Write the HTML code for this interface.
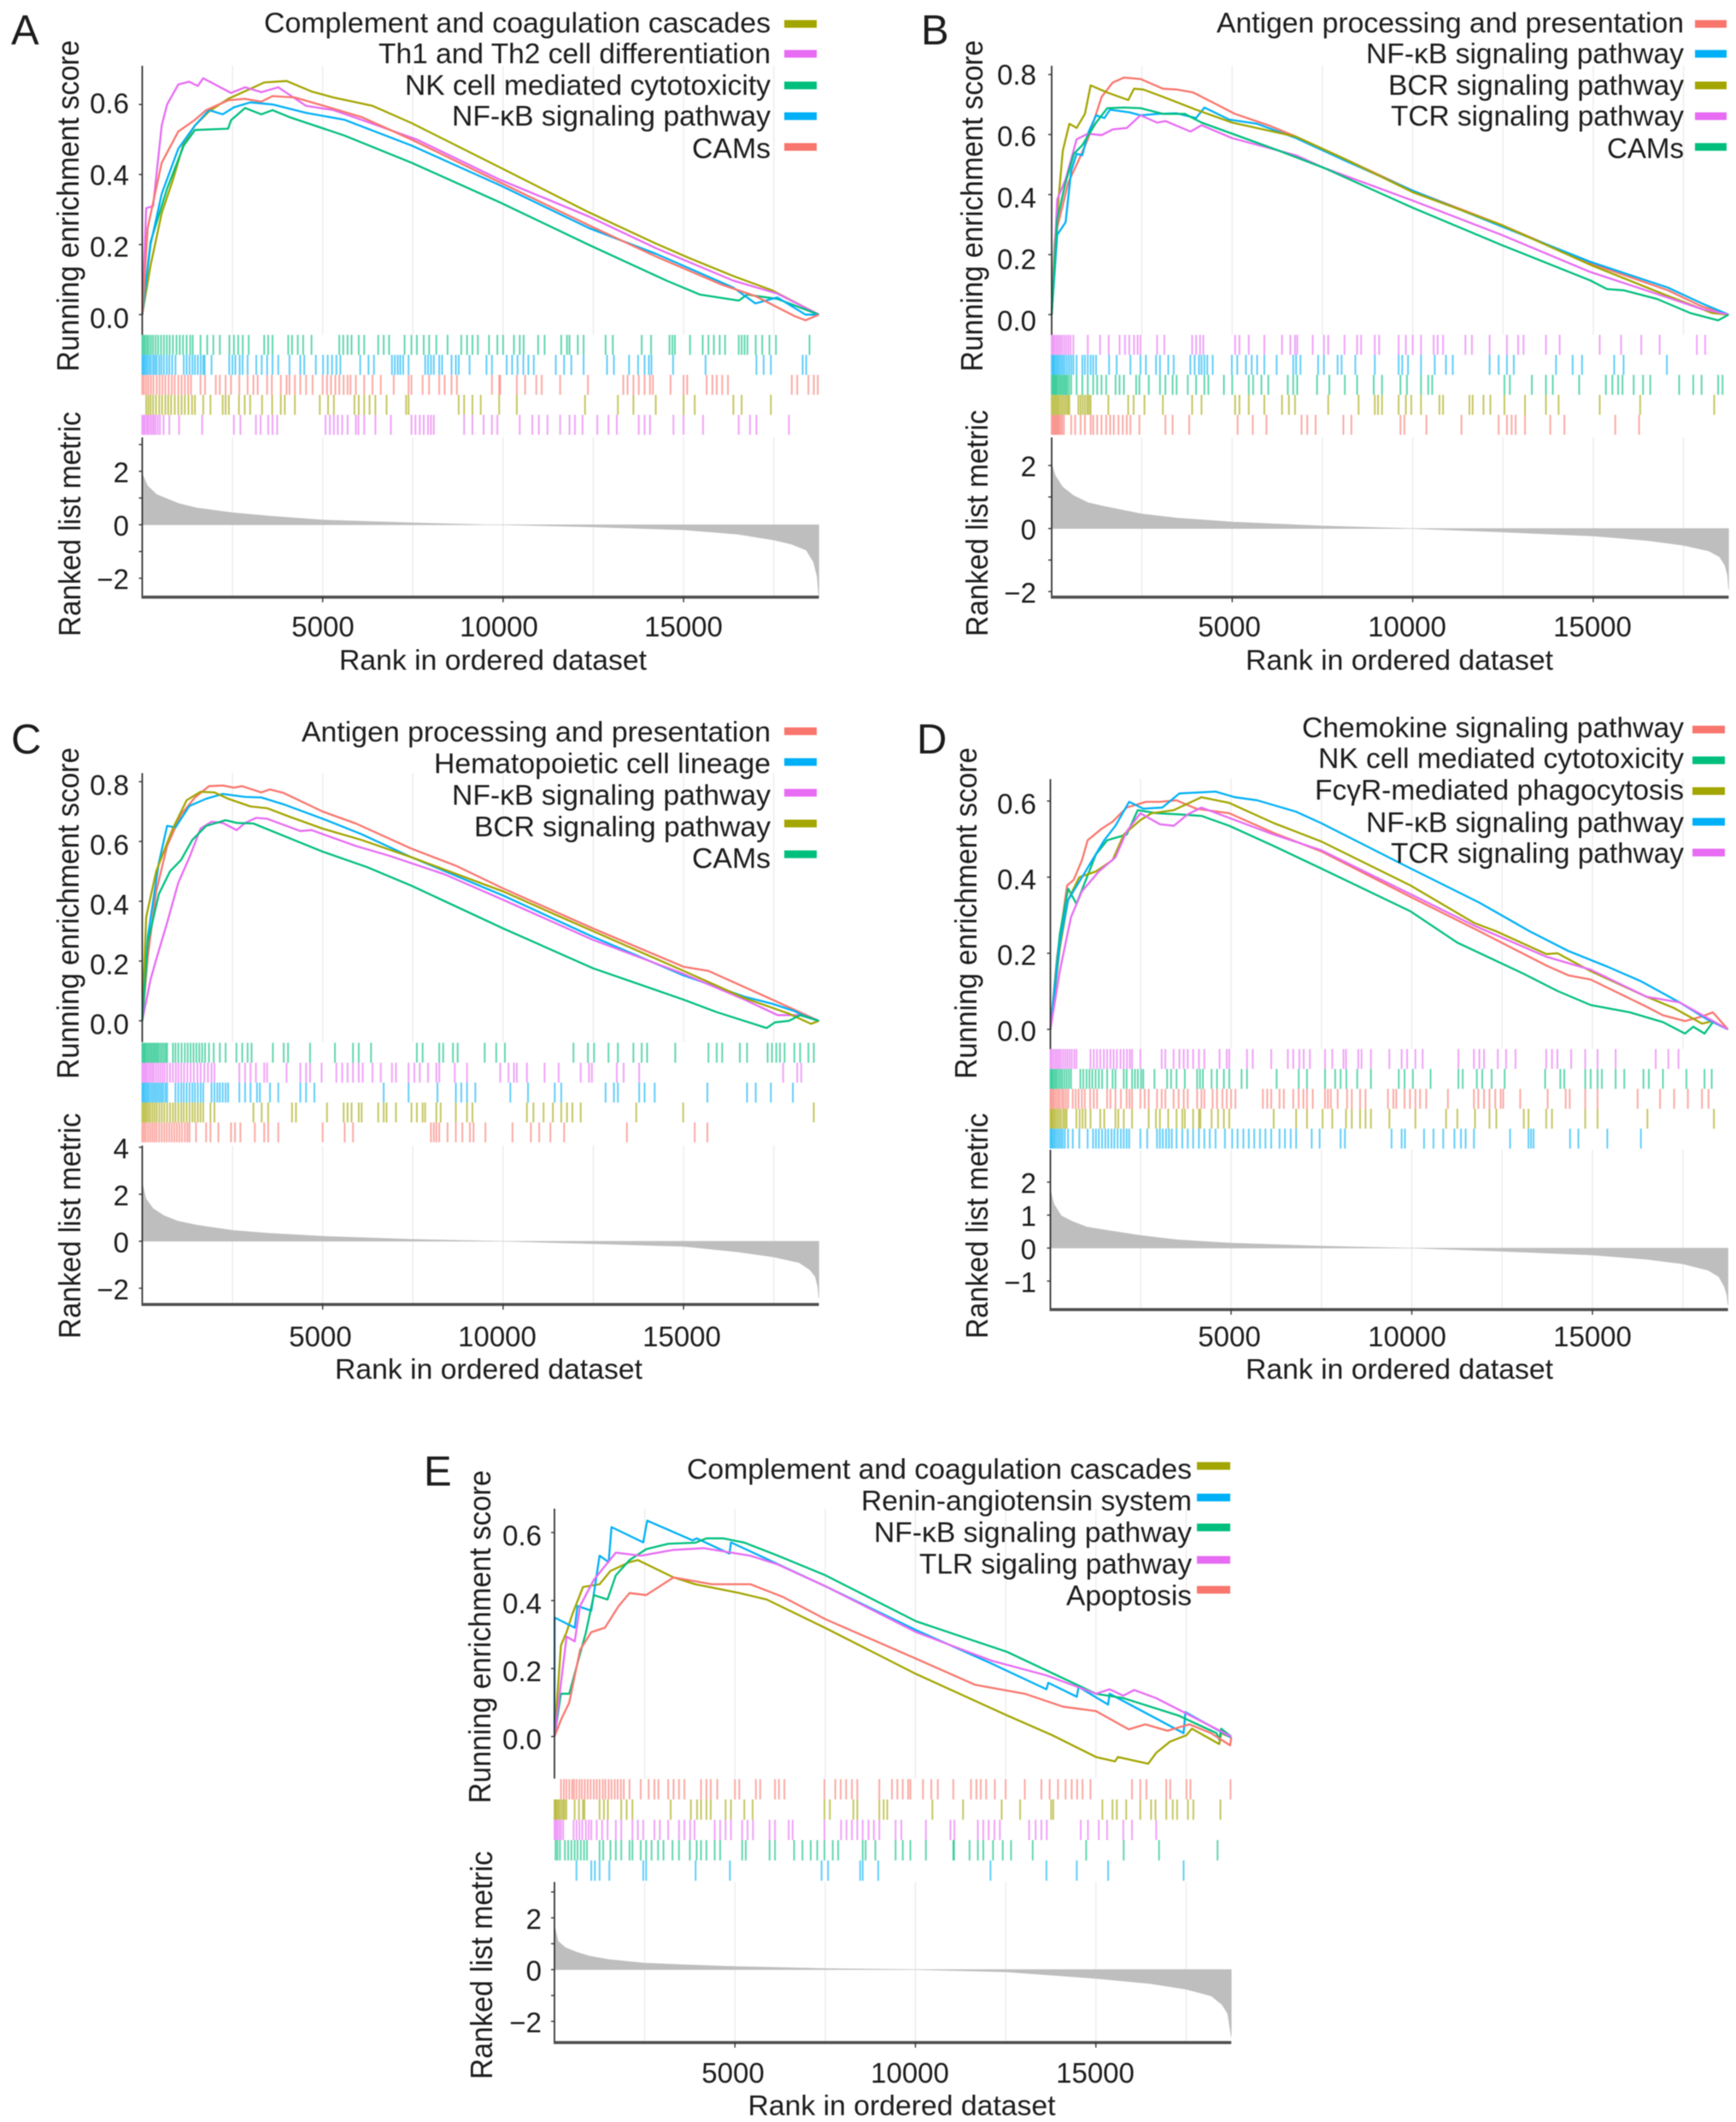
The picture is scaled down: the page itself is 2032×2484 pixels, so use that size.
<!DOCTYPE html>
<html lang="en">
<head>
<meta charset="utf-8">
<title>GSEA enrichment plots</title>
<style>
html,body{margin:0;padding:0;background:#fff;}
#figure{display:block;width:2032px;height:2484px;filter:blur(.55px);font-family:"Liberation Sans",Arial,sans-serif;}
text{fill:#1c1c1c;}
</style>
</head>
<body>
<svg id="figure" xmlns="http://www.w3.org/2000/svg" width="2032" height="2484" viewBox="0 0 2032 2484"></svg>
<script>
/* ---------- shared axis data ---------- */
const rankTickValues=[5000,10000,15000];
const rankGridValues=[2500,5000,7500,10000,12500,15000,17500];
const rankTickLabels=["5000","10000","15000"];
const metricRanksCommon=[0,100,300,600,1000,1500,2500,3500,5000,7500,9000,10000,12500,15000,16500,17500,18200,18500,18650,18720,18750];

/* ---------- panel A ---------- */
const aScoreTicks=[0,0.2,0.4,0.6];
const aMetricTicks=[-2,0,2];
const aMetricMinor=[-1,1,3];
const aMetricRanks=[0,150,400,1000,1500,2500,3500,5000,7500,9000,9500,10000,12500,15000,16500,17500,18000,18400,18600,18700,18750];
const aMetricValues=[1.9,1.45,1.13,0.8,0.63,0.45,0.33,0.18,0.07,0.02,0,0,-0.08,-0.19,-0.35,-0.57,-0.73,-0.95,-1.39,-1.93,-2.7];
const aComplementRanks=[0,230,540,850,1150,1460,1850,2380,3000,3380,4000,4690,5300,6380,7460,9920,12380,14230,15150,16380,17460,18750];
const aComplementScores=[0,0.14,0.29,0.385,0.49,0.54,0.58,0.616,0.645,0.663,0.667,0.637,0.62,0.596,0.547,0.42,0.292,0.203,0.162,0.11,0.069,0];
const aTh1Ranks=[0,108,300,540,690,1000,1300,1540,1690,2460,2850,3300,3770,4540,5300,6080,7610,9920,12380,14230,16380,17600,18750];
const aTh1Scores=[0,0.304,0.31,0.54,0.6,0.657,0.665,0.653,0.675,0.633,0.649,0.635,0.649,0.596,0.584,0.556,0.5,0.385,0.28,0.19,0.097,0.06,0];
const aNkRanks=[0,230,690,1150,1460,2380,2460,2850,3300,3610,4080,5610,7460,9920,12380,14530,15460,16530,16760,17600,18750];
const aNkScores=[0,0.207,0.36,0.483,0.527,0.531,0.555,0.59,0.572,0.584,0.564,0.511,0.434,0.32,0.199,0.097,0.057,0.04,0.057,0.045,0];
const aNfRanks=[0,230,540,1000,1460,1850,2230,2540,3000,3610,4540,5610,7460,9920,12380,14230,16380,16990,17600,18380,18750];
const aNfScores=[0,0.2,0.345,0.474,0.54,0.584,0.572,0.592,0.606,0.6,0.576,0.556,0.483,0.369,0.247,0.174,0.077,0.032,0.049,0,0];
const aCamsRanks=[0,150,540,1000,1460,1770,2380,2850,3300,3610,4230,5300,6080,7460,9920,12380,14230,16070,16990,18070,18380,18750];
const aCamsScores=[0,0.247,0.434,0.523,0.556,0.584,0.612,0.616,0.608,0.624,0.62,0.588,0.564,0.5,0.377,0.255,0.166,0.085,0.053,-0.004,-0.016,0];
const aNkHits=[0,40,80,130,180,240,300,370,440,520,600,680,760,850,950,1040,1130,1230,1330,1400,1615,1800,1970,2150,2415,2540,2660,2785,2950,3380,3490,3610,4045,4150,4310,4460,4690,5460,5570,5690,5800,6000,6150,6540,6690,6840,7270,7460,7610,7800,7950,8150,8460,8840,9000,9150,9300,9610,9840,10000,10300,10460,10570,10970,11150,11610,11770,11840,12070,12230,12840,13040,13840,14100,14610,14690,14760,15180,15530,15690,15840,16000,16150,16530,16610,16690,16770,17000,17180,17380,17560,18490];
const aNfHits=[0,30,60,100,140,190,240,300,350,400,470,530,600,680,750,830,920,1150,1230,1310,1390,1460,1540,1620,1690,1730,1920,2410,2500,2580,2700,2780,2920,3160,3310,3460,3610,3770,4080,4380,4490,4810,5010,5140,5260,5380,5490,6040,6270,6420,6920,7000,7080,7150,7230,7380,7840,7920,8000,8080,8230,8310,8570,8690,8770,9070,9540,9690,10100,10250,10400,10560,10700,10850,11460,11690,11890,12230,12880,13070,13490,13740,13920,14040,14110,14710,15610,17020,17220,17420,18300,18400];
const aCamsHits=[0,50,110,170,240,310,400,480,560,640,730,820,900,1000,1090,1180,1270,1350,1615,1740,2040,2150,2310,2460,2690,2920,3080,3200,3460,3590,3840,4000,4080,4230,4380,4540,4720,5000,5120,5230,5350,5460,5580,5690,5770,5920,6150,6380,6610,6970,7380,7460,7770,7950,8230,8380,8570,8720,9690,9890,9920,10380,10610,10920,11070,11580,12350,13330,13450,13610,13760,13920,14070,14150,14640,15000,15100,15640,15800,15920,16070,16230,18000,18150,18460,18610,18720];
const aComplementHits=[110,170,230,300,380,470,550,640,720,800,900,1000,1090,1180,1280,1380,1460,1690,1890,2230,2310,2400,2680,2840,2990,3320,3600,3840,3950,4230,4920,5150,5310,5880,6000,6150,6300,6460,6770,7310,7380,8770,8920,9150,9380,9890,10380,12270,13180,13610,14230,15000,15310,16380,16610,17420];
const aTh1Hits=[0,40,80,130,170,220,270,320,370,430,490,590,750,1020,1660,2540,2720,3150,3280,3490,3610,3740,5080,5200,5310,5420,5540,5690,5920,5990,6150,6460,6890,7460,7570,7690,7800,7920,8000,8080,8920,9150,9460,9690,9840,10460,10810,10990,11230,11580,11840,11990,12200,12610,12920,13150,13760,13920,14070,14720,15000,15540,16530,16840,17020,17920];

/* ---------- panel B ---------- */
const bScoreTicks=[0,0.2,0.4,0.6,0.8];
const bMetricTicks=[-2,0,2];
const bMetricMinor=[-1,1];
const bMetricValues=[2.05,1.68,1.32,1.05,0.82,0.69,0.46,0.33,0.21,0.08,0.03,0,-0.11,-0.235,-0.38,-0.53,-0.71,-0.9,-1.17,-1.48,-1.94];
const bAntigenRanks=[0,154,460,770,1000,1230,1385,1690,2000,2460,3080,3460,3920,4460,5075,6000,6770,8150,10000,12460,14920,17070,18000,18750];
const bAntigenScores=[0,0.29,0.44,0.52,0.584,0.669,0.726,0.773,0.79,0.785,0.753,0.75,0.74,0.707,0.669,0.631,0.593,0.517,0.413,0.299,0.171,0.081,0.028,0];
const bBcrRanks=[0,77,308,490,690,920,1080,1540,2120,2280,2540,3080,4000,5000,6770,8150,10000,12460,14920,17070,18300,18750];
const bBcrScores=[0,0.232,0.546,0.636,0.622,0.669,0.764,0.74,0.715,0.753,0.75,0.726,0.683,0.64,0.593,0.517,0.408,0.299,0.166,0.062,0.005,0];
const bNfRanks=[0,154,385,540,690,850,1000,1230,1460,1615,2150,2460,2920,3460,4000,4230,4920,5690,6770,8150,10000,12460,14920,17070,18000,18750];
const bNfScores=[0,0.266,0.308,0.479,0.536,0.531,0.603,0.664,0.655,0.683,0.674,0.664,0.669,0.671,0.655,0.69,0.65,0.636,0.588,0.512,0.413,0.294,0.176,0.09,0.038,0];
const bCamsRanks=[0,154,385,615,850,1230,1540,2000,2460,3080,3690,4150,5000,6300,7540,10000,12460,14920,15380,15840,16770,17690,18460,18750];
const bCamsScores=[0,0.318,0.441,0.536,0.565,0.64,0.688,0.69,0.688,0.669,0.669,0.64,0.603,0.546,0.489,0.356,0.232,0.114,0.085,0.081,0.052,0.005,-0.019,0];
const bTcrRanks=[0,154,385,690,1000,1385,1690,2080,2460,2920,3150,3845,4150,5000,6770,7540,10000,12460,14920,16460,18000,18750];
const bTcrScores=[0,0.384,0.451,0.584,0.603,0.598,0.617,0.622,0.664,0.64,0.645,0.61,0.631,0.588,0.531,0.489,0.38,0.266,0.142,0.081,0.019,0];
const bTcrHits=[0,40,80,130,180,230,280,340,400,460,520,600,1000,1340,1580,1880,2030,2150,2280,2380,2460,2920,3120,3890,4000,4110,4200,5080,5200,5460,5890,6380,6610,6740,6800,7230,7540,7660,8110,8460,8570,8950,9070,9610,9810,10000,10230,10580,10690,10840,11460,11640,12130,12610,12920,13070,13690,14070,15180,15770,16330,16840,17870,18100];
const bNfHits=[0,30,60,90,130,170,210,260,310,360,420,480,540,600,690,850,920,1000,1080,1150,1230,1590,1800,2180,2460,2610,2890,3000,3230,3380,3840,3960,4080,4150,4230,4310,4460,4990,5140,5380,5540,5690,5890,6230,6690,6770,6890,7380,7540,7920,8030,8410,8950,9610,9710,9870,10230,10610,10920,11110,12130,12380,12610,12800,13970,14430,14690,15580,15840,17040];
const bCamsHits=[0,30,60,90,120,150,190,230,270,310,350,390,430,480,540,690,850,1000,1150,1260,1380,1510,1770,1880,2000,2340,2430,2690,3000,3150,3350,3460,3770,4000,4230,4340,4770,5000,5460,5580,5810,6000,6540,6690,6800,7350,7690,8120,8460,8920,9150,9660,9840,10230,10430,10540,12540,12690,13300,13690,13880,14610,15350,15530,15690,15810,16120,16380,16580,17380,17770,18000,18460,18580];
const bBcrHits=[0,40,80,120,160,200,250,300,350,400,450,490,740,800,860,920,980,1030,1080,1570,2120,2270,2570,3080,3890,4150,5080,5200,5460,5890,6380,6570,6740,7660,8500,8950,9040,9150,9610,9810,9960,10230,10740,10840,11570,11660,11960,12150,12540,13110,13690,14040,15180,16300,18350];
const bAntigenHits=[0,30,60,90,120,150,180,210,250,290,340,540,650,800,920,1080,1150,1260,1380,1510,1620,1720,1850,1970,2080,2180,2430,3150,3350,3810,5150,5570,5950,6920,7080,7310,8080,8300,9660,9770,10380,11350,12380,12610,12740,12850,13110,13810,14200,15610,16270];

/* ---------- panel C ---------- */
const cScoreTicks=[0,0.2,0.4,0.6,0.8];
const cMetricTicks=[-2,0,2,4];
const cMetricMinor=[];
const cMetricValues=[2.5,1.82,1.39,1.09,0.85,0.69,0.46,0.34,0.21,0.08,0.03,0,-0.1,-0.22,-0.45,-0.67,-0.91,-1.21,-1.5,-1.94,-2.42];
const cAntigenRanks=[0,154,385,690,1075,1460,1850,2230,2540,2770,3300,3540,3920,5000,5920,7460,8690,10000,12490,15000,15690,17460,18750];
const cAntigenScores=[0,0.214,0.433,0.585,0.69,0.747,0.785,0.787,0.78,0.785,0.764,0.774,0.762,0.7,0.66,0.576,0.519,0.443,0.309,0.181,0.167,0.071,0];
const cBcrRanks=[0,108,385,690,845,1230,1615,2000,2380,3000,3460,4080,5000,6080,7460,10000,11770,12490,15000,16690,17920,18530,18750];
const cBcrScores=[0,0.347,0.5,0.595,0.643,0.738,0.766,0.764,0.743,0.717,0.711,0.683,0.643,0.605,0.547,0.433,0.338,0.3,0.167,0.076,0.024,-0.01,0];
const cHemaRanks=[0,154,460,690,920,1310,1770,2230,2850,3300,3920,5000,6080,7460,10000,12490,15000,16690,17460,18070,18300,18750];
const cHemaScores=[0,0.281,0.528,0.652,0.647,0.719,0.743,0.759,0.749,0.747,0.724,0.676,0.624,0.547,0.419,0.281,0.152,0.081,0.057,0.033,0.019,0];
const cNfRanks=[0,230,385,690,1000,1310,1615,1920,2230,2615,2850,3150,3460,4380,4690,5920,6850,8380,10000,12490,15000,16690,17610,18230,18750];
const cNfScores=[0,0.138,0.205,0.328,0.462,0.547,0.643,0.666,0.662,0.638,0.662,0.679,0.676,0.635,0.638,0.585,0.552,0.49,0.405,0.271,0.157,0.071,0.019,0.019,0];
const cCamsRanks=[0,154,460,770,1075,1385,1770,2310,2615,3080,3920,5000,6230,7460,10000,12490,15000,15920,17300,17530,17920,18230,18750];
const cCamsScores=[0,0.262,0.424,0.5,0.538,0.605,0.652,0.671,0.662,0.66,0.619,0.566,0.514,0.452,0.309,0.176,0.071,0.029,-0.024,-0.005,0,0.019,0];
const cCamsHits=[0,30,60,90,130,170,210,250,290,330,370,410,450,500,550,600,650,690,850,920,1000,1090,1180,1260,1340,1420,1500,1580,1660,1740,1850,1980,2150,2310,2610,2770,2920,3030,3620,3920,4040,4650,5340,5840,6000,6340,7610,7770,8230,8340,8610,8740,9490,9810,10050,11950,12350,12520,12920,13180,13610,13840,13990,14770,15690,15920,16070,16560,16760,17330,17450,17570,17670,17800,18070,18230,18460,18610];
const cNfHits=[0,40,80,120,170,220,270,320,380,440,500,560,620,690,770,850,930,1000,1080,1160,1250,1340,1430,1530,1620,1720,1820,1920,2000,2690,2850,3000,3150,3380,3460,4000,4380,4540,4650,4970,5380,5540,5690,5840,6000,6110,6380,6610,6920,7030,7380,7540,7690,7920,8150,8230,8660,9000,9920,10150,10300,10380,10660,11150,11540,12150,12380,12460,13150,13340,13770,17760,18150,18260];
const cHemaHits=[0,30,60,100,140,180,230,280,330,380,430,480,530,580,640,690,920,1000,1080,1150,1230,1310,1390,1460,1540,1620,1690,1920,2000,2080,2150,2230,2310,2380,2690,2850,3000,3180,3260,3540,3770,4380,4540,4770,6690,7380,8180,8690,8840,9000,9230,10200,10690,11430,11610,12840,13070,13180,13770,13920,14200,15660,16760,17000,17420,18030];
const cBcrHits=[0,40,80,120,170,220,280,340,400,470,540,610,690,770,850,920,1000,1080,1150,1230,1310,1390,1460,1540,1615,1690,1890,2000,3080,3310,3490,4150,4260,5120,5580,5690,5800,6000,6080,6540,6690,6770,7030,7460,7610,7770,7840,8150,8270,8690,9000,9150,10660,10840,11120,11380,11610,11770,11920,12150,13690,14990,18610];
const cAntigenHits=[0,50,100,160,220,280,340,400,470,540,610,680,750,820,890,960,1030,1100,1180,1250,1310,1490,1770,1890,2110,2460,2570,2720,3120,3380,3490,3770,5000,5610,5840,8000,8080,8150,8230,8460,8690,8870,9080,9180,9510,10260,10770,11000,11310,11690,13430,15310,15660];

/* ---------- panel D ---------- */
const dScoreTicks=[0,0.2,0.4,0.6];
const dMetricTicks=[-1,0,1,2];
const dMetricMinor=[];
const dMetricValues=[1.76,1.33,0.98,0.81,0.64,0.55,0.38,0.25,0.15,0.06,0.02,0,-0.095,-0.21,-0.34,-0.48,-0.67,-0.87,-1.17,-1.43,-1.73];
const dChemokineRanks=[0,185,460,645,875,1030,1415,1720,2110,2645,3030,3490,4030,4950,6180,7490,9970,11870,13720,14330,14950,16490,16950,17560,18030,18330,18750];
const dChemokineScores=[0,0.19,0.378,0.393,0.445,0.497,0.527,0.546,0.583,0.598,0.598,0.602,0.58,0.568,0.516,0.468,0.348,0.258,0.168,0.142,0.131,0.06,0.037,0.022,0.034,0.045,0];
const dFcRanks=[0,260,490,800,1260,1720,2030,2490,2800,3410,4180,4950,6180,7490,9970,11720,12330,13720,14030,14950,16490,17260,18030,18330,18750];
const dFcScores=[0,0.213,0.34,0.4,0.415,0.445,0.512,0.55,0.568,0.576,0.61,0.595,0.542,0.494,0.378,0.28,0.258,0.198,0.2,0.153,0.086,0.056,0.015,0.022,0];
const dNfRanks=[0,260,490,875,1490,1800,2180,2570,3100,3570,4570,5100,5720,6800,7490,9970,11870,13260,14330,15410,16330,17410,18180,18750];
const dNfScores=[0,0.228,0.34,0.4,0.497,0.535,0.598,0.58,0.583,0.62,0.625,0.61,0.602,0.572,0.542,0.423,0.333,0.258,0.206,0.165,0.127,0.071,0.026,0];
const dNkRanks=[0,260,490,720,1260,1570,2110,2415,2950,3570,4180,4950,6180,7490,9970,11260,13100,14030,14950,16030,16950,17560,17790,18100,18330,18750];
const dNkScores=[0,0.25,0.37,0.33,0.46,0.497,0.512,0.576,0.568,0.565,0.561,0.535,0.482,0.423,0.31,0.228,0.146,0.101,0.064,0.045,0.019,-0.011,0.007,-0.011,0.019,0];
const dTcrRanks=[0,260,570,875,1340,1800,2110,2490,3030,3415,3800,4180,4800,6180,7490,9970,11720,13720,14950,16490,17410,18750];
const dTcrScores=[0,0.153,0.295,0.363,0.415,0.452,0.52,0.568,0.539,0.535,0.565,0.583,0.561,0.512,0.471,0.355,0.273,0.191,0.157,0.086,0.071,0];
const dTcrHits=[0,40,90,140,190,240,290,350,410,470,530,590,660,720,1110,1200,1290,1380,1480,1570,1660,1750,1840,1940,2030,2120,2200,2260,2490,3080,3180,3410,3570,3690,3800,3950,4110,4260,4680,4880,4950,5440,5600,6110,6570,6720,6890,7010,7180,7600,7800,8110,8180,8520,8610,8870,9380,9720,9870,10100,10300,11290,11720,11870,12000,12380,12610,12870,13720,13880,14030,14410,14800,15140,15640,16750,17100,17380];
const dNkHits=[0,30,60,100,140,180,230,280,330,390,450,510,570,830,910,1000,1080,1160,1250,1340,1430,1570,1720,1800,2030,2110,2260,2340,2420,2510,2570,2880,3230,3340,3490,3720,4060,4140,4220,4460,4610,4800,4950,5290,5440,6260,6870,7100,7600,7880,8030,8190,8490,8870,9640,9800,10030,10520,11290,11410,11800,11950,12210,12570,13690,14110,14220,14800,14950,15140,15260,15640,15880,16410,16560,16950,17600,18100,18300];
const dChemokineHits=[0,30,70,110,160,210,260,320,370,430,490,620,700,780,870,950,1100,1200,1290,1570,1660,1800,1950,2110,2190,2260,2490,2610,2720,2950,3080,3180,3410,3550,3690,3800,4060,4180,4260,4490,4610,4760,4880,5000,5120,5880,6000,6110,6340,6460,6720,6870,7000,7100,7260,7600,7680,7760,7950,8210,8340,8570,8720,9340,9490,9570,9800,9950,10100,10230,10400,11000,11720,11840,12000,12150,12310,12460,12530,13000,13760,14260,14370,14800,15140,16250,16870,17260,17640,18030,18210];
const dFcHits=[0,30,60,100,140,190,240,290,350,400,450,720,810,890,970,1110,1380,1490,1800,1880,2030,2260,2720,2920,3030,3260,3490,3650,3720,3950,4110,4150,4460,4640,4800,4950,6180,6800,7100,7530,7800,8180,8340,8570,8720,8870,9380,10100,10950,11260,11750,12150,12340,13100,13230,13720,13880,14800,15140,16520,18360];
const dNfHits=[0,30,60,100,140,190,240,290,340,400,490,620,800,1030,1180,1260,1340,1430,1520,1600,1690,1770,1860,1950,2030,2110,2180,2490,2680,2950,3030,3110,3200,3280,3360,3490,3650,3800,3950,4110,4260,4410,4570,4830,5030,5180,5340,5490,5640,5800,5950,6110,6340,6490,6650,6800,7230,7450,8030,8150,9440,9720,9810,10340,10600,10870,11180,11360,11490,11720,12720,13230,13300,13370,14380,14610,15410,16340];

/* ---------- panel E ---------- */
const eScoreTicks=[0,0.2,0.4,0.6];
const eMetricTicks=[-2,0,2];
const eMetricMinor=[-1,1,3];
const eMetricRanks=[0,100,300,600,1000,1500,2500,3500,5000,7500,10000,12500,15000,16500,17500,18200,18500,18650,18750];
const eMetricValues=[1.7,1.1,0.85,0.68,0.51,0.39,0.25,0.19,0.12,0.04,0,-0.085,-0.34,-0.54,-0.76,-1.02,-1.36,-1.7,-2.6];
const eComplementRanks=[0,180,335,490,790,1250,1550,2080,2310,3300,3900,5120,5880,7510,10020,12540,13790,15000,15530,15610,16450,16670,17050,17510,17660,18420,18470,18750];
const eComplementScores=[0,0.268,0.307,0.358,0.44,0.448,0.487,0.513,0.519,0.468,0.448,0.422,0.403,0.319,0.184,0.062,0.004,-0.06,-0.073,-0.06,-0.08,-0.048,-0.015,0.004,0.023,-0.022,0.01,-0.003];
const eReninRanks=[0,5,560,640,1020,1250,1500,1580,2460,2570,3830,3940,4850,4890,7510,10020,12080,13630,13680,14470,14520,15340,15380,17430,17480,18750];
const eReninScores=[0,0.35,0.32,0.384,0.37,0.532,0.513,0.616,0.571,0.635,0.577,0.583,0.538,0.571,0.442,0.313,0.216,0.139,0.158,0.117,0.146,0.094,0.126,0.01,0.072,-0.003];
const eNfRanks=[0,180,410,640,870,1090,1470,1700,2080,2540,3150,3900,4210,4670,5270,6190,7510,10020,12540,15000,15760,17280,18340,18420,18470,18750];
const eNfScores=[0,0.126,0.126,0.216,0.306,0.416,0.403,0.474,0.519,0.551,0.567,0.57,0.583,0.583,0.57,0.532,0.474,0.339,0.249,0.126,0.113,0.062,0.01,-0.009,0.023,0];
const eTlrRanks=[0,335,560,710,1090,1700,2390,3300,4130,5430,6190,7510,10020,12110,13630,15000,15380,15760,16060,16670,18750];
const eTlrScores=[0,0.294,0.28,0.384,0.461,0.541,0.532,0.549,0.554,0.532,0.506,0.442,0.307,0.223,0.18,0.126,0.139,0.12,0.137,0.113,0];
const eApoptosisRanks=[0,180,410,710,1020,1400,1780,2080,2540,3300,4360,5430,6340,7510,10020,11660,13030,14090,15000,15910,16370,16980,17590,18190,18720,18750];
const eApoptosisScores=[0,0.049,0.1,0.255,0.307,0.32,0.384,0.422,0.416,0.468,0.448,0.448,0.41,0.345,0.229,0.152,0.126,0.088,0.075,0.021,0.036,0.017,0.036,0.01,-0.026,-0.003];
const eApoptosisHits=[180,260,330,410,490,540,610,690,760,840,920,1000,1090,1170,1250,1340,1410,1500,1580,1670,1750,1840,1920,2080,2390,2610,2770,2880,3150,3300,3450,3600,4060,4210,4330,4510,5000,5120,5580,5700,6110,6220,6370,7480,7780,7930,8080,8240,8390,9000,9350,9500,9650,9800,9860,10210,10440,10620,11050,11540,11690,11810,11960,12200,12500,13030,13490,13720,13950,14160,14330,14480,14630,14850,16000,16230,16400,16950,17060,17510,17620,18730];
const eComplementHits=[0,30,60,100,140,190,240,280,330,560,680,790,830,1250,1370,1480,1850,2000,2160,3220,3780,3950,4060,4210,4330,4740,4890,5260,5490,7480,7630,8280,8390,9000,9120,9220,10470,11320,12390,12900,13760,13820,15180,15460,15580,15840,16230,16530,16650,16950,17130,17250,17550,17700,18450];
const eTlrHits=[0,40,80,130,180,240,530,610,690,770,870,950,1020,1170,1320,1470,1700,1850,2160,2310,2460,2770,2920,3150,3450,3600,3760,3880,4440,4590,4740,4890,5200,5350,5500,5960,6110,6490,6600,7480,7940,8090,8240,8390,8540,8700,8850,9000,9450,9610,10290,10970,11080,11730,11880,12030,12190,12340,13150,13330,13490,13640,14580,14780,15080,15310,15760,16000,16670];
const eNfHits=[30,80,150,290,380,470,560,640,730,820,900,1250,1350,1550,1700,1850,2080,2160,2390,2540,2690,2870,3020,3270,3450,3750,3940,4060,4210,4440,4590,5200,5300,5960,6110,6640,6870,7100,7280,7480,7710,7860,8540,8620,8890,9450,9650,9860,10290,11050,11070,11500,11730,11880,12150,12420,12650,13250,14730,15770,16750,18370];
const eReninHits=[610,1020,1120,1250,1520,2460,2540,3910,4860,7400,7580,8470,8540,8970,12080,13630,14470,15340,17430];

/* ---------- palette (ggplot hue) ---------- */
const SALMON="#F8766D",OLIVE="#A3A500",GREEN="#00BF7D",BLUE="#00B0F6",MAGENTA="#E76BF3";

/* ---------- panel layout ---------- */
const panels=[
 {id:"a",letter:"A",letterX:13,letterY:52,x0:166.5,k:0.04224,
  top:{axisTop:77,axisBottom:392,zero:368.3,unit:410,ticks:aScoreTicks,labelRight:151,labelShift:4,labelDrift:-9},
  rug:{top:392,rowH:23.4},
  low:{top:512,zero:614.3,unit:31.3,bottom:699,ticks:aMetricTicks,minor:aMetricMinor,ranks:aMetricRanks,values:aMetricValues,labelRight:151},
  xLabelY:745,xLabelX:[378,584,800],xTitle:{x:397,w:360,y:784},
  yTitle:{x:92,y:435,len:388},yTitle2:{x:94,y:745,len:263},
  legendRight:902,keyX:918,keyW:38,
  series:[
   {key:"complement",label:"Complement and coagulation cascades",color:OLIVE,ranks:aComplementRanks,scores:aComplementScores,hits:aComplementHits,row:3,left:309,base:38,keyY:28},
   {key:"th1-th2",label:"Th1 and Th2 cell differentiation",color:MAGENTA,ranks:aTh1Ranks,scores:aTh1Scores,hits:aTh1Hits,row:4,left:443,base:74,keyY:63},
   {key:"nk-cell",label:"NK cell mediated cytotoxicity",color:GREEN,ranks:aNkRanks,scores:aNkScores,hits:aNkHits,row:0,left:474,base:111,keyY:100},
   {key:"nf-kb",label:"NF-\u03BAB signaling pathway",color:BLUE,ranks:aNfRanks,scores:aNfScores,hits:aNfHits,row:1,left:529,base:147,keyY:136},
   {key:"cams",label:"CAMs",color:SALMON,ranks:aCamsRanks,scores:aCamsScores,hits:aCamsHits,row:2,left:810,base:185,keyY:172}]},
 {id:"b",letter:"B",letterX:1078,letterY:52,x0:1231,k:0.04226,
  top:{axisTop:77,axisBottom:392,zero:368.3,unit:351.3,ticks:bScoreTicks,labelRight:1213,labelShift:7,labelDrift:-9},
  rug:{top:392,rowH:23.4},
  low:{top:512,zero:618.7,unit:36.9,bottom:699,ticks:bMetricTicks,minor:bMetricMinor,ranks:metricRanksCommon,values:bMetricValues,labelRight:1213},
  xLabelY:745,xLabelX:[1439,1647,1864],xTitle:{x:1458,w:360,y:784},
  yTitle:{x:1150,y:435,len:388},yTitle2:{x:1156,y:745,len:265},
  legendRight:1971,keyX:1984,keyW:37,
  series:[
   {key:"antigen",label:"Antigen processing and presentation",color:SALMON,ranks:bAntigenRanks,scores:bAntigenScores,hits:bAntigenHits,row:4,left:1424,base:38,keyY:28},
   {key:"nf-kb",label:"NF-\u03BAB signaling pathway",color:BLUE,ranks:bNfRanks,scores:bNfScores,hits:bNfHits,row:1,left:1599,base:74,keyY:63},
   {key:"bcr",label:"BCR signaling pathway",color:OLIVE,ranks:bBcrRanks,scores:bBcrScores,hits:bBcrHits,row:3,left:1625,base:111,keyY:100},
   {key:"tcr",label:"TCR signaling pathway",color:MAGENTA,ranks:bTcrRanks,scores:bTcrScores,hits:bTcrHits,row:0,left:1628,base:147,keyY:136},
   {key:"cams",label:"CAMs",color:GREEN,ranks:bCamsRanks,scores:bCamsScores,hits:bCamsHits,row:2,left:1881,base:185,keyY:172}]},
 {id:"c",letter:"C",letterX:13,letterY:882,x0:166.5,k:0.04224,
  top:{axisTop:905,axisBottom:1220,zero:1195,unit:350,ticks:cScoreTicks,labelRight:151,labelShift:3.5,labelDrift:0},
  rug:{top:1220.7,rowH:23.3},
  low:{top:1341,zero:1453,unit:27.5,bottom:1527,ticks:cMetricTicks,minor:cMetricMinor,ranks:metricRanksCommon,values:cMetricValues,labelRight:151},
  xLabelY:1576,xLabelX:[375,582,798],xTitle:{x:392,w:360,y:1614},
  yTitle:{x:92,y:1263,len:388},yTitle2:{x:94,y:1567,len:264},
  legendRight:902,keyX:918,keyW:38,
  series:[
   {key:"antigen",label:"Antigen processing and presentation",color:SALMON,ranks:cAntigenRanks,scores:cAntigenScores,hits:cAntigenHits,row:4,left:353,base:868,keyY:856},
   {key:"hematopoietic",label:"Hematopoietic cell lineage",color:BLUE,ranks:cHemaRanks,scores:cHemaScores,hits:cHemaHits,row:2,left:508,base:905,keyY:892},
   {key:"nf-kb",label:"NF-\u03BAB signaling pathway",color:MAGENTA,ranks:cNfRanks,scores:cNfScores,hits:cNfHits,row:1,left:529,base:942,keyY:928},
   {key:"bcr",label:"BCR signaling pathway",color:OLIVE,ranks:cBcrRanks,scores:cBcrScores,hits:cBcrHits,row:3,left:555,base:979,keyY:964},
   {key:"cams",label:"CAMs",color:GREEN,ranks:cCamsRanks,scores:cCamsScores,hits:cCamsHits,row:0,left:810,base:1016,keyY:1000}]},
 {id:"d",letter:"D",letterX:1073,letterY:882,x0:1229.5,k:0.0423,
  top:{axisTop:912,axisBottom:1228,zero:1205,unit:445.5,ticks:dScoreTicks,labelRight:1213,labelShift:1.5,labelDrift:2.5},
  rug:{top:1228,rowH:23.3},
  low:{top:1346,zero:1461,unit:38.6,bottom:1533,ticks:dMetricTicks,minor:dMetricMinor,ranks:metricRanksCommon,values:dMetricValues,labelRight:1213},
  xLabelY:1576,xLabelX:[1439,1647,1864],xTitle:{x:1458,w:360,y:1614},
  yTitle:{x:1143,y:1263,len:388},yTitle2:{x:1156,y:1567,len:264},
  legendRight:1971,keyX:1981,keyW:38,
  series:[
   {key:"chemokine",label:"Chemokine signaling pathway",color:SALMON,ranks:dChemokineRanks,scores:dChemokineScores,hits:dChemokineHits,row:2,left:1524,base:863,keyY:854},
   {key:"nk-cell",label:"NK cell mediated cytotoxicity",color:GREEN,ranks:dNkRanks,scores:dNkScores,hits:dNkHits,row:1,left:1543,base:899,keyY:890},
   {key:"fc-gamma",label:"Fc\u03B3R-mediated phagocytosis",color:OLIVE,ranks:dFcRanks,scores:dFcScores,hits:dFcHits,row:3,left:1539,base:936,keyY:926},
   {key:"nf-kb",label:"NF-\u03BAB signaling pathway",color:BLUE,ranks:dNfRanks,scores:dNfScores,hits:dNfHits,row:4,left:1599,base:974,keyY:962},
   {key:"tcr",label:"TCR signaling pathway",color:MAGENTA,ranks:dTcrRanks,scores:dTcrScores,hits:dTcrHits,row:0,left:1628,base:1010,keyY:998}]},
 {id:"e",letter:"E",letterX:496,letterY:1739,x0:649,k:0.04225,
  top:{axisTop:1766,axisBottom:2082,zero:2032.8,unit:398,ticks:eScoreTicks,labelRight:634,labelShift:3,labelDrift:0},
  rug:{top:2082.6,rowH:23.8},
  low:{top:2203,zero:2305.6,unit:30.3,bottom:2391,ticks:eMetricTicks,minor:eMetricMinor,ranks:eMetricRanks,values:eMetricValues,labelRight:634},
  xLabelY:2438,xLabelX:[858,1065,1282],xTitle:{x:875.5,w:360,y:2476},
  yTitle:{x:574,y:2111,len:390},yTitle2:{x:576,y:2434,len:267},
  legendRight:1395,keyX:1401,keyW:39,
  series:[
   {key:"complement",label:"Complement and coagulation cascades",color:OLIVE,ranks:eComplementRanks,scores:eComplementScores,hits:eComplementHits,row:1,left:804,base:1731,keyY:1716},
   {key:"renin",label:"Renin-angiotensin system",color:BLUE,ranks:eReninRanks,scores:eReninScores,hits:eReninHits,row:4,left:1008,base:1768,keyY:1753},
   {key:"nf-kb",label:"NF-\u03BAB signaling pathway",color:GREEN,ranks:eNfRanks,scores:eNfScores,hits:eNfHits,row:3,left:1023,base:1805,keyY:1788},
   {key:"tlr",label:"TLR sigaling pathway",color:MAGENTA,ranks:eTlrRanks,scores:eTlrScores,hits:eTlrHits,row:2,left:1076,base:1842,keyY:1826},
   {key:"apoptosis",label:"Apoptosis",color:SALMON,ranks:eApoptosisRanks,scores:eApoptosisScores,hits:eApoptosisHits,row:0,left:1248,base:1879,keyY:1861}]}
];

/* ---------- drawing ---------- */
const NS="http://www.w3.org/2000/svg";
const root=document.getElementById("figure");
const MAX_RANK=18750;
const FONT=33;
const TEXT_HALF=11.8;

function svgNode(tag,parent,attrs){
  const n=document.createElementNS(NS,tag);
  for(const a in attrs){n.setAttribute(a,attrs[a]);}
  parent.appendChild(n);
  return n;
}
function xAxis(p){return r=>p.x0+r*p.k;}
function scoreAxis(p){return s=>p.top.zero-s*p.top.unit;}
function metricAxis(p){return v=>p.low.zero-v*p.low.unit;}
function tickText(v,digits){return (digits?v.toFixed(digits):String(v)).replace("-","\u2212");}

panels.forEach(p=>{
  const x=xAxis(p),yS=scoreAxis(p),yM=metricAxis(p);
  const xEnd=x(MAX_RANK);
  const g=svgNode("g",root,{});
  
  

  const letter=svgNode("text",g,{x:p.letterX,y:p.letterY,"font-size":49});
  
  
  letter.textContent=p.letter;

  rankGridValues.forEach(r=>{
    const gridTop=svgNode("line",g,{x1:x(r),x2:x(r),y1:p.top.axisTop,y2:p.top.axisBottom,stroke:"#ececec","stroke-width":1.4});
    
    
    const gridLow=svgNode("line",g,{x1:x(r),x2:x(r),y1:p.low.top,y2:p.low.bottom,stroke:"#ececec","stroke-width":1.4});
    
    
  });

  /* rug rows */
  p.series.forEach(s=>{
    const rugGroup=svgNode("g",g,{stroke:s.color,"stroke-width":2,"stroke-opacity":0.62});
    
    
    const y1=p.rug.top+s.row*p.rug.rowH,y2=y1+p.rug.rowH;
    s.hits.forEach(r=>{
      const tick=svgNode("line",rugGroup,{x1:x(r),x2:x(r),y1:y1,y2:y2});
      
      
    });
  });

  /* metric area */
  let d="M"+x(p.low.ranks[0])+" "+yM(0);
  p.low.ranks.forEach((r,i)=>{d+=" L"+x(r).toFixed(1)+" "+yM(p.low.values[i]).toFixed(1);});
  d+=" L"+x(p.low.ranks[p.low.ranks.length-1]).toFixed(1)+" "+yM(0)+" Z";
  const area=svgNode("path",g,{d:d,fill:"#bebebe",stroke:"#bebebe","stroke-width":0.6});
  
  

  /* running score curves */
  p.series.forEach(s=>{
    let c="";
    s.ranks.forEach((r,i)=>{c+=(i?" L":"M")+x(r).toFixed(1)+" "+yS(s.scores[i]).toFixed(1);});
    const curve=svgNode("path",g,{d:c,fill:"none",stroke:s.color,"stroke-width":2.3,"stroke-linejoin":"round"});
    
    
  });

  /* axes */
  const axisTop=svgNode("line",g,{x1:p.x0,x2:p.x0,y1:p.top.axisTop,y2:p.top.axisBottom,stroke:"#2a2a2a","stroke-width":1.7});
  
  
  const axisLow=svgNode("line",g,{x1:p.x0,x2:p.x0,y1:p.low.top,y2:p.low.bottom,stroke:"#2a2a2a","stroke-width":1.7});
  
  
  const axisBottom=svgNode("line",g,{x1:p.x0-1,x2:xEnd,y1:p.low.bottom,y2:p.low.bottom,stroke:"#4d4d4d","stroke-width":3.4});
  
  

  p.top.ticks.forEach(v=>{
    const tick=svgNode("line",g,{x1:p.x0-4,x2:p.x0,y1:yS(v),y2:yS(v),stroke:"#333","stroke-width":1.4});
    
    
    const label=svgNode("text",g,{x:p.top.labelRight,y:yS(v)+TEXT_HALF+p.top.labelShift+p.top.labelDrift*v,"text-anchor":"end","font-size":FONT});
    
    
    label.textContent=tickText(v,1);
  });
  p.low.ticks.forEach(v=>{
    const tick=svgNode("line",g,{x1:p.x0-4,x2:p.x0,y1:yM(v),y2:yM(v),stroke:"#333","stroke-width":1.4});
    
    
    const label=svgNode("text",g,{x:p.low.labelRight,y:yM(v)+TEXT_HALF+1,"text-anchor":"end","font-size":FONT});
    
    
    label.textContent=tickText(v,0);
  });
  p.low.minor.forEach(v=>{
    const tick=svgNode("line",g,{x1:p.x0-4,x2:p.x0,y1:yM(v),y2:yM(v),stroke:"#333","stroke-width":1.4});
    
    
  });
  rankTickValues.forEach((r,i)=>{
    const tick=svgNode("line",g,{x1:x(r),x2:x(r),y1:p.low.bottom,y2:p.low.bottom+6,stroke:"#333","stroke-width":1.4});
    
    
    const label=svgNode("text",g,{x:p.xLabelX[i],y:p.xLabelY,"text-anchor":"middle","font-size":FONT});
    
    
    label.textContent=rankTickLabels[i];
  });

  /* titles */
  const xTitle=svgNode("text",g,{x:p.xTitle.x,y:p.xTitle.y,"font-size":FONT,textLength:p.xTitle.w,lengthAdjust:"spacingAndGlyphs"});
  
  
  xTitle.textContent="Rank in ordered dataset";
  const yTitleTop=svgNode("text",g,{transform:"translate("+p.yTitle.x+" "+p.yTitle.y+") rotate(-90)","font-size":36,textLength:p.yTitle.len,lengthAdjust:"spacingAndGlyphs"});
  
  
  yTitleTop.textContent="Running enrichment score";
  const yTitleLow=svgNode("text",g,{transform:"translate("+p.yTitle2.x+" "+p.yTitle2.y+") rotate(-90)","font-size":36,textLength:p.yTitle2.len,lengthAdjust:"spacingAndGlyphs"});
  
  
  yTitleLow.textContent="Ranked list metric";

  /* legend */
  p.series.forEach(s=>{
    const label=svgNode("text",g,{x:s.left,y:s.base,"font-size":FONT,textLength:p.legendRight-s.left,lengthAdjust:"spacingAndGlyphs"});
    
    
    label.textContent=s.label;
    const key=svgNode("rect",g,{x:p.keyX,y:s.keyY-4.5,width:p.keyW,height:9,fill:s.color});
    
    
  });
});
</script>
</body>
</html>
